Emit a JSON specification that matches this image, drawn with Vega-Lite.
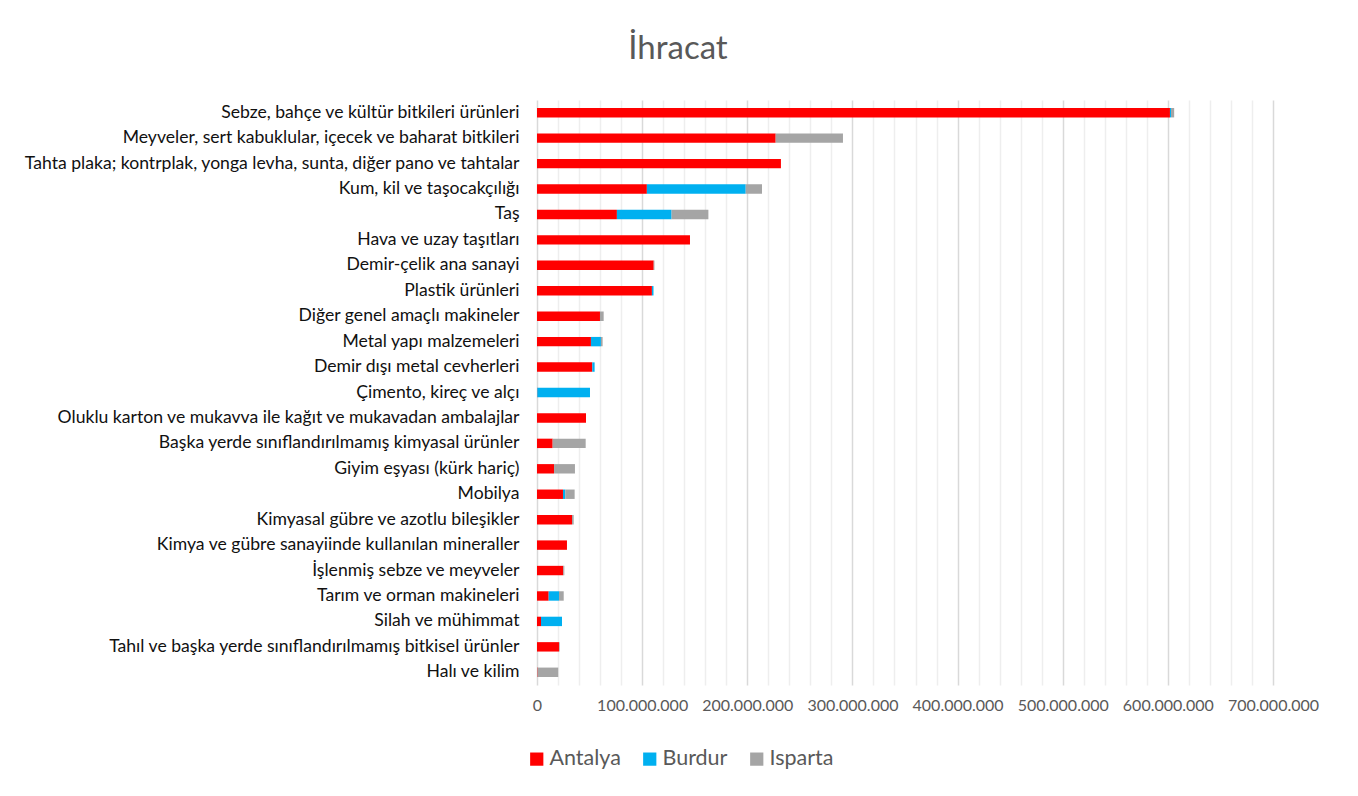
{
  "$schema": "https://vega.github.io/schema/vega-lite/v6.json",
  "autosize": {"type": "none"},
  "padding": {"left": 537, "top": 100, "right": 85, "bottom": 111},
  "width": 736,
  "height": 585,
  "background": "white",
  "title": {
    "text": "İhracat",
    "fontSize": 33,
    "font": "Lato",
    "fontWeight": "normal",
    "color": "#595959",
    "anchor": "middle",
    "frame": "group",
    "dx": -227,
    "offset": 34
  },
  "config": {
    "font": "Lato",
    "view": {"stroke": null}
  },
  "data": {
    "values": [
      {"urun": "Sebze, bahçe ve kültür bitkileri ürünleri", "il": "Antalya", "deger": 602000000},
      {"urun": "Sebze, bahçe ve kültür bitkileri ürünleri", "il": "Burdur", "deger": 1000000},
      {"urun": "Sebze, bahçe ve kültür bitkileri ürünleri", "il": "Isparta", "deger": 3000000},
      {"urun": "Meyveler, sert kabuklular, içecek ve baharat bitkileri", "il": "Antalya", "deger": 227000000},
      {"urun": "Meyveler, sert kabuklular, içecek ve baharat bitkileri", "il": "Isparta", "deger": 64000000},
      {"urun": "Tahta plaka; kontrplak, yonga levha, sunta, diğer pano ve tahtalar", "il": "Antalya", "deger": 232000000},
      {"urun": "Kum, kil ve taşocakçılığı", "il": "Antalya", "deger": 104500000},
      {"urun": "Kum, kil ve taşocakçılığı", "il": "Burdur", "deger": 94000000},
      {"urun": "Kum, kil ve taşocakçılığı", "il": "Isparta", "deger": 15500000},
      {"urun": "Taş", "il": "Antalya", "deger": 76000000},
      {"urun": "Taş", "il": "Burdur", "deger": 52000000},
      {"urun": "Taş", "il": "Isparta", "deger": 35000000},
      {"urun": "Hava ve uzay taşıtları", "il": "Antalya", "deger": 145500000},
      {"urun": "Demir-çelik ana sanayi", "il": "Antalya", "deger": 111000000},
      {"urun": "Demir-çelik ana sanayi", "il": "Isparta", "deger": 700000},
      {"urun": "Plastik ürünleri", "il": "Antalya", "deger": 109300000},
      {"urun": "Plastik ürünleri", "il": "Burdur", "deger": 1500000},
      {"urun": "Diğer genel amaçlı makineler", "il": "Antalya", "deger": 59900000},
      {"urun": "Diğer genel amaçlı makineler", "il": "Isparta", "deger": 3500000},
      {"urun": "Metal yapı malzemeleri", "il": "Antalya", "deger": 51300000},
      {"urun": "Metal yapı malzemeleri", "il": "Burdur", "deger": 9500000},
      {"urun": "Metal yapı malzemeleri", "il": "Isparta", "deger": 1600000},
      {"urun": "Demir dışı metal cevherleri", "il": "Antalya", "deger": 52600000},
      {"urun": "Demir dışı metal cevherleri", "il": "Burdur", "deger": 2200000},
      {"urun": "Çimento, kireç ve alçı", "il": "Antalya", "deger": 300000},
      {"urun": "Çimento, kireç ve alçı", "il": "Burdur", "deger": 50100000},
      {"urun": "Oluklu karton ve mukavva ile kağıt ve mukavadan ambalajlar", "il": "Antalya", "deger": 46600000},
      {"urun": "Başka yerde sınıflandırılmamış kimyasal ürünler", "il": "Antalya", "deger": 14900000},
      {"urun": "Başka yerde sınıflandırılmamış kimyasal ürünler", "il": "Isparta", "deger": 31400000},
      {"urun": "Giyim eşyası (kürk hariç)", "il": "Antalya", "deger": 16200000},
      {"urun": "Giyim eşyası (kürk hariç)", "il": "Isparta", "deger": 19900000},
      {"urun": "Mobilya", "il": "Antalya", "deger": 24700000},
      {"urun": "Mobilya", "il": "Burdur", "deger": 2200000},
      {"urun": "Mobilya", "il": "Isparta", "deger": 8900000},
      {"urun": "Kimyasal gübre ve azotlu bileşikler", "il": "Antalya", "deger": 33300000},
      {"urun": "Kimyasal gübre ve azotlu bileşikler", "il": "Isparta", "deger": 1600000},
      {"urun": "Kimya ve gübre sanayiinde kullanılan mineraller", "il": "Antalya", "deger": 28500000},
      {"urun": "İşlenmiş sebze ve meyveler", "il": "Antalya", "deger": 25000000},
      {"urun": "İşlenmiş sebze ve meyveler", "il": "Isparta", "deger": 1000000},
      {"urun": "Tarım ve orman makineleri", "il": "Antalya", "deger": 11100000},
      {"urun": "Tarım ve orman makineleri", "il": "Burdur", "deger": 9800000},
      {"urun": "Tarım ve orman makineleri", "il": "Isparta", "deger": 4500000},
      {"urun": "Silah ve mühimmat", "il": "Antalya", "deger": 3800000},
      {"urun": "Silah ve mühimmat", "il": "Burdur", "deger": 20000000},
      {"urun": "Tahıl ve başka yerde sınıflandırılmamış bitkisel ürünler", "il": "Antalya", "deger": 20900000},
      {"urun": "Tahıl ve başka yerde sınıflandırılmamış bitkisel ürünler", "il": "Isparta", "deger": 700000},
      {"urun": "Halı ve kilim", "il": "Antalya", "deger": 500000},
      {"urun": "Halı ve kilim", "il": "Isparta", "deger": 19700000}
    ]
  },
  "mark": {"type": "bar"},
  "encoding": {
    "y": {
      "field": "urun",
      "type": "nominal",
      "sort": [
        "Sebze, bahçe ve kültür bitkileri ürünleri",
        "Meyveler, sert kabuklular, içecek ve baharat bitkileri",
        "Tahta plaka; kontrplak, yonga levha, sunta, diğer pano ve tahtalar",
        "Kum, kil ve taşocakçılığı",
        "Taş",
        "Hava ve uzay taşıtları",
        "Demir-çelik ana sanayi",
        "Plastik ürünleri",
        "Diğer genel amaçlı makineler",
        "Metal yapı malzemeleri",
        "Demir dışı metal cevherleri",
        "Çimento, kireç ve alçı",
        "Oluklu karton ve mukavva ile kağıt ve mukavadan ambalajlar",
        "Başka yerde sınıflandırılmamış kimyasal ürünler",
        "Giyim eşyası (kürk hariç)",
        "Mobilya",
        "Kimyasal gübre ve azotlu bileşikler",
        "Kimya ve gübre sanayiinde kullanılan mineraller",
        "İşlenmiş sebze ve meyveler",
        "Tarım ve orman makineleri",
        "Silah ve mühimmat",
        "Tahıl ve başka yerde sınıflandırılmamış bitkisel ürünler",
        "Halı ve kilim"
      ],
      "scale": {"paddingInner": 0.63, "paddingOuter": 0.315},
      "axis": {
        "title": null,
        "domain": false,
        "ticks": false,
        "labelFontSize": 17.6,
        "labelColor": "#111111",
        "labelPadding": 18,
        "labelLimit": 600
      }
    },
    "x": {
      "field": "deger",
      "type": "quantitative",
      "stack": "zero",
      "scale": {"domain": [0, 700000000], "nice": false},
      "axis": {
        "title": null,
        "domain": false,
        "ticks": false,
        "values": [0, 20000000, 40000000, 60000000, 80000000, 100000000, 120000000, 140000000, 160000000, 180000000, 200000000, 220000000, 240000000, 260000000, 280000000, 300000000, 320000000, 340000000, 360000000, 380000000, 400000000, 420000000, 440000000, 460000000, 480000000, 500000000, 520000000, 540000000, 560000000, 580000000, 600000000, 620000000, 640000000, 660000000, 680000000, 700000000],
        "labelExpr": "datum.value % 100000000 === 0 ? replace(format(datum.value, ','), /,/g, '.') : ''",
        "labelFontSize": 16,
        "labelColor": "#595959",
        "labelPadding": 12,
        "labelOverlap": false,
        "labelFlush": false,
        "grid": true,
        "gridColor": {"condition": {"test": "datum.value % 100000000 === 0", "value": "#d9d9d9"}, "value": "#eeeeee"},
        "gridWidth": 1.5
      }
    },
    "color": {
      "field": "il",
      "type": "nominal",
      "scale": {"domain": ["Antalya", "Burdur", "Isparta"], "range": ["#ff0000", "#00b0f0", "#a5a5a5"]},
      "legend": {
        "title": null,
        "orient": "none",
        "direction": "horizontal",
        "legendX": -11,
        "legendY": 648,
        "symbolType": "square",
        "symbolSize": 175,
        "symbolStrokeWidth": 0,
        "labelFontSize": 21.5,
        "labelColor": "#595959",
        "labelOffset": 2,
        "columnPadding": 18
      }
    }
  }
}
